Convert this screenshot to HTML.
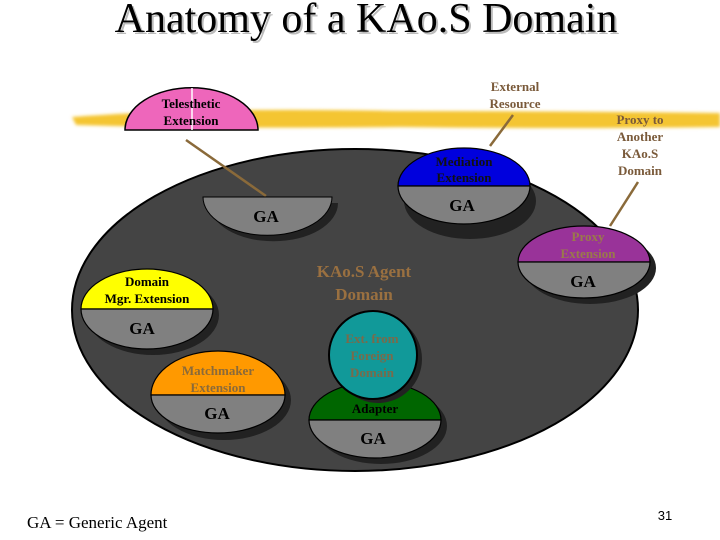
<!DOCTYPE html>
<html><head><style>
body{margin:0;background:#fff;}
svg{display:block;font-family:"Liberation Serif",serif;}
</style></head><body>
<svg width="720" height="540" viewBox="0 0 720 540">
<defs>
<filter id="bl" x="-5%" y="-50%" width="110%" height="200%"><feGaussianBlur stdDeviation="1.5"/></filter>
</defs>
<text x="368" y="34" font-size="42" text-anchor="middle" fill="#bbb">Anatomy of a KAo.S Domain</text>
<text x="366" y="32" font-size="42" text-anchor="middle" fill="#000">Anatomy of a KAo.S Domain</text>
<path d="M72 117 Q200 107 400 111 Q560 111 720 113 L720 127 Q560 129 400 127 Q200 129 76 125 Z" fill="#f4c530" filter="url(#bl)"/>
<ellipse cx="355" cy="310" rx="283" ry="161" fill="#444" stroke="#000" stroke-width="2"/>
<path d="M125 130 A66 42 0 0 1 258 130 Z" fill="#ee66bb" stroke="#000" stroke-width="1.5"/>
<line x1="192" y1="88" x2="192" y2="130" stroke="#fff" stroke-width="1.5"/>
<g font-weight="bold">
<text x="191" y="108" font-size="13" text-anchor="middle">Telesthetic</text>
<text x="191" y="125" font-size="13" text-anchor="middle">Extension</text>
</g>
<line x1="186" y1="140" x2="266" y2="196" stroke="#8a6a3a" stroke-width="2.5"/>
<line x1="513" y1="115" x2="490" y2="146" stroke="#8a6a3a" stroke-width="2.5"/>
<line x1="638" y1="182" x2="610" y2="226" stroke="#8a6a3a" stroke-width="2.5"/>
<g font-size="13" text-anchor="middle" fill="#7a5a3a" font-weight="bold">
<text x="515" y="91">External</text>
<text x="515" y="108">Resource</text>
<text x="640" y="124">Proxy to</text><text x="640" y="141">Another</text><text x="640" y="158">KAo.S</text><text x="640" y="175">Domain</text></g>
<path d="M209 203 A64 38 0 0 0 338 203 Z" fill="#222"/>
<path d="M203 197 A64 38 0 0 0 332 197 Z" fill="#808080" stroke="#000" stroke-width="1"/>
<g stroke="#000" stroke-width="1.2">
<ellipse cx="470" cy="201" rx="66" ry="38" fill="#222" stroke="none"/>
<path d="M398 186 A66 38 0 0 1 530 186 Z" fill="#0000dd"/>
<path d="M398 186 A66 38 0 0 0 530 186 Z" fill="#808080"/>
<ellipse cx="590" cy="268" rx="66" ry="36" fill="#222" stroke="none"/>
<path d="M518 262 A66 36 0 0 1 650 262 Z" fill="#993399"/>
<path d="M518 262 A66 36 0 0 0 650 262 Z" fill="#808080"/>
<ellipse cx="153" cy="315" rx="66" ry="40" fill="#222" stroke="none"/>
<path d="M81 309 A66 40 0 0 1 213 309 Z" fill="#ffff00"/>
<path d="M81 309 A66 40 0 0 0 213 309 Z" fill="#808080"/>
<ellipse cx="224" cy="400" rx="67" ry="40" fill="#222" stroke="none"/>
<path d="M151 395 A67 44 0 0 1 285 395 Z" fill="#ff9900"/>
<path d="M151 395 A67 38 0 0 0 285 395 Z" fill="#808080"/>
<ellipse cx="381" cy="426" rx="66" ry="38" fill="#222" stroke="none"/>
<path d="M309 420 A66 38 0 0 1 441 420 Z" fill="#006600"/>
<path d="M309 420 A66 38 0 0 0 441 420 Z" fill="#808080"/>
<circle cx="378" cy="359" r="44" fill="#222" stroke="none"/>
<circle cx="373" cy="355" r="44" fill="#119999" stroke-width="2"/>
</g>
<g stroke="#000" stroke-dasharray="3 2" stroke-width="1">
<line x1="518" y1="262" x2="650" y2="262"/>
<line x1="81" y1="309" x2="213" y2="309"/>
<line x1="151" y1="395" x2="285" y2="395"/>
<line x1="309" y1="420" x2="441" y2="420"/>
</g>
<g font-size="13" text-anchor="middle" font-weight="bold">
<text x="464" y="166" fill="#111">Mediation</text><text x="464" y="182" fill="#111">Extension</text>
<text x="588" y="241" fill="#9a7a4a">Proxy</text><text x="588" y="258" fill="#9a7a4a">Extension</text>
<text x="147" y="286">Domain</text><text x="147" y="303">Mgr. Extension</text>
<text x="218" y="375" fill="#8a6a3a">Matchmaker</text><text x="218" y="392" fill="#8a6a3a">Extension</text>
<text x="375" y="413">Adapter</text>
<text x="372" y="343" fill="#7a6a4a">Ext. from</text><text x="372" y="360" fill="#7a6a4a">Foreign</text><text x="372" y="377" fill="#7a6a4a">Domain</text>
</g>
<g font-size="17" text-anchor="middle" font-weight="bold">
<text x="266" y="222">GA</text>
<text x="462" y="211">GA</text>
<text x="583" y="287">GA</text>
<text x="142" y="334">GA</text>
<text x="217" y="419">GA</text>
<text x="373" y="444">GA</text>
<text x="364" y="277" fill="#9a7040">KAo.S Agent</text>
<text x="364" y="300" fill="#9a7040">Domain</text>
</g>
<text x="27" y="528" font-size="17">GA = Generic Agent</text>
<text x="665" y="520" font-size="13" text-anchor="middle" font-family="Liberation Sans, sans-serif">31</text>
</svg>
</body></html>
